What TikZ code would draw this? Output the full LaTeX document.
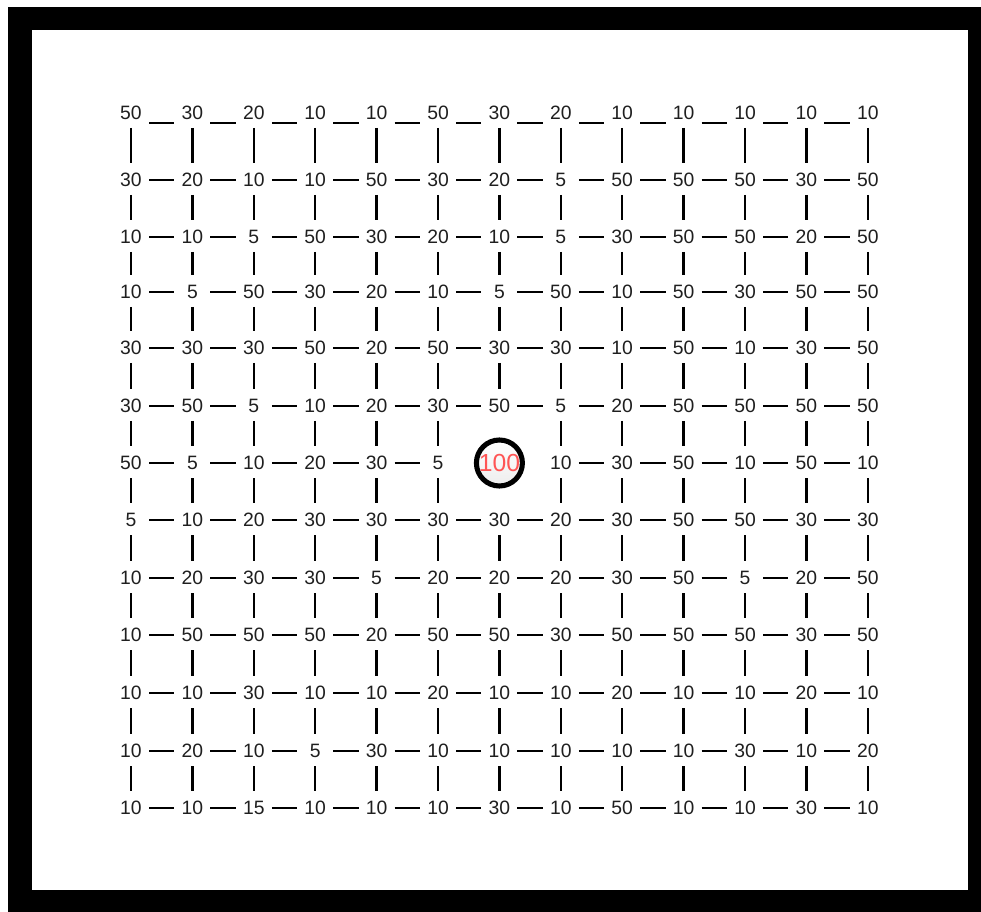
\documentclass[tikz,border=0pt]{standalone}
\usepackage{fontspec}
\newfontfamily\numfont{Liberation Sans}
\definecolor{hubred}{RGB}{255,85,85}
\begin{document}
\begin{tikzpicture}[x=0.75pt,y=-0.75pt,
  num/.style={font=\numfont\fontsize{14.5}{16}\selectfont, text=black!88, inner sep=0pt, anchor=center},
  hub/.style={circle, draw=black, line width=3.8pt, minimum size=34.5pt, inner sep=0pt,
              top color=white, bottom color=black!7,
              font=\numfont\fontsize{18.5}{20}\selectfont, text=hubred},
  link/.style={line width=1.9pt, black}]
\useasboundingbox (0,0) rectangle (981,912);
\fill[black] (8,7) rectangle (981,912);
\fill[white] (32,30) rectangle (968,890);

\foreach \r/\y/\vals in {
  1/113/{50,30,20,10,10,50,30,20,10,10,10,10,10},
  2/180/{30,20,10,10,50,30,20,5,50,50,50,30,50},
  3/237/{10,10,5,50,30,20,10,5,30,50,50,20,50},
  4/292/{10,5,50,30,20,10,5,50,10,50,30,50,50},
  5/348/{30,30,30,50,20,50,30,30,10,50,10,30,50},
  6/406/{30,50,5,10,20,30,50,5,20,50,50,50,50},
  7/463/{50,5,10,20,30,5,100,10,30,50,10,50,10},
  8/520/{5,10,20,30,30,30,30,20,30,50,50,30,30},
  9/578/{10,20,30,30,5,20,20,20,30,50,5,20,50},
  10/635/{10,50,50,50,20,50,50,30,50,50,50,30,50},
  11/693/{10,10,30,10,10,20,10,10,20,10,10,20,10},
  12/751/{10,20,10,5,30,10,10,10,10,10,30,10,20},
  13/808/{10,10,15,10,10,10,30,10,50,10,10,30,10}} {
  \foreach \v [count=\c] in \vals {
    \pgfmathsetmacro\xx{131+61.4*(\c-1)}
    \pgfmathtruncatemacro\ishub{(\r==7)&&(\c==7)}
    \ifnum\ishub=1
      \node[hub] (n-\r-\c) at (\xx,\y) {\v};
    \else
      \node[num] (n-\r-\c) at (\xx,\y) {\v};
    \fi
  }
}

% horizontal connectors
\foreach \r in {1,...,13} {
  \foreach \c [evaluate=\c as \d using int(\c+1)] in {1,...,12} {
    \pgfmathtruncatemacro\skipme{(\r==7)&&((\c==6)||(\c==7))}
    \pgfmathsetmacro\ys{(\r==1) ? -7.5 : 0}
    \ifnum\skipme=0
      \draw[link] ([xshift=13.5pt,yshift=\ys pt]n-\r-\c.center) -- ([xshift=-13.5pt,yshift=\ys pt]n-\r-\d.center);
    \fi
  }
}

% vertical connectors
\foreach \r [evaluate=\r as \rn using int(\r+1)] in {1,...,12} {
  \foreach \c in {1,...,13} {
    \pgfmathtruncatemacro\skipme{(\c==7)&&((\r==6)||(\r==7))}
    \ifnum\skipme=0
      \draw[link] ([yshift=-11.25pt]n-\r-\c.center) -- ([yshift=12.75pt]n-\rn-\c.center);
    \fi
  }
}
\end{tikzpicture}
\end{document}
